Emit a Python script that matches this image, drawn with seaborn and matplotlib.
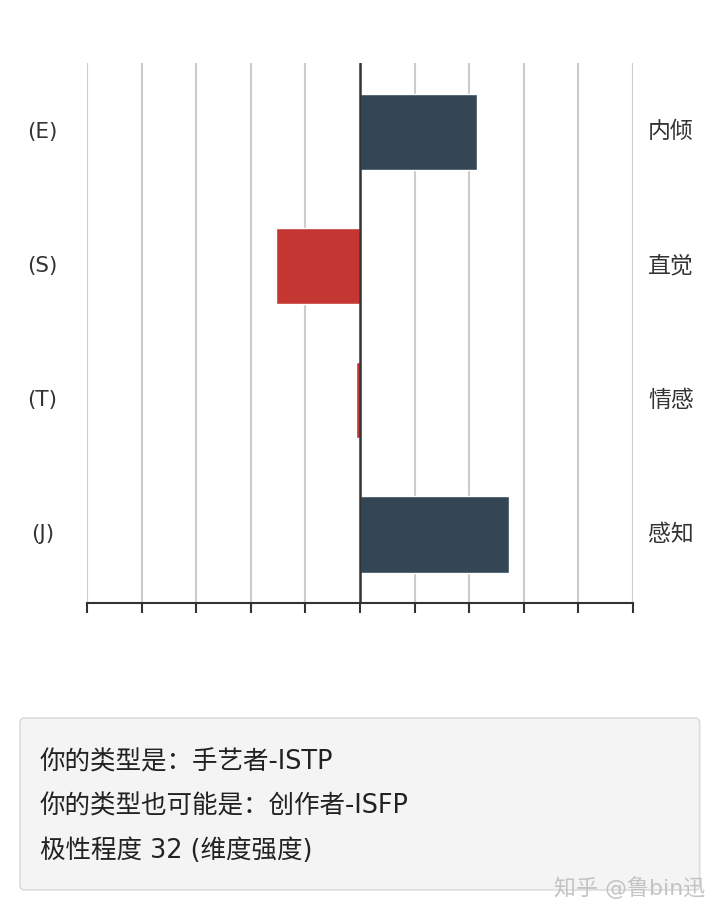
import matplotlib
matplotlib.use("Agg")
import matplotlib.pyplot as plt
from matplotlib.patches import FancyBboxPatch
import seaborn as sns

# MBTI dimension scores (negative = left pole, positive = right pole)
dims = ["E-I", "S-N", "T-F", "J-P"]
left_labels = ["(E)", "(S)", "(T)", "(J)"]
right_labels = ["内倾", "直觉", "情感", "感知"]
scores = [21.5, -15.3, -0.7, 27.3]

result_lines = [
    "你的类型是：手艺者-ISTP",
    "你的类型也可能是：创作者-ISFP",
    "极性程度 32 (维度强度)",
]
watermark = "知乎 @鲁bin迅"

NAVY = "#324656"
RED = "#c43632"

sns.set_style("white")
# Latin glyphs in DejaVu, Chinese falls back to Noto CJK
plt.rcParams["font.family"] = ["DejaVu Sans", "Noto Sans CJK SC"]

fig = plt.figure(figsize=(7.2, 9.23), dpi=100)
ax = fig.add_axes([0.1208, 0.3467, 0.7583, 0.5850])

colors = [NAVY if s >= 0 else RED for s in scores]
sns.barplot(x=scores, y=dims, hue=dims, palette=colors, legend=False,
            orient="h", width=0.566, saturation=1, ax=ax)

ax.set_xlim(-50, 50)
ax.set_ylim(3.51, -0.51)
ax.set_xticks(range(-50, 51, 10))
ax.set_xticklabels([])
ax.set_yticks([])
ax.set_xlabel("")
ax.set_ylabel("")

# vertical grid lines behind the bars
for xv in range(-50, 51, 10):
    if xv != 0:
        ax.axvline(xv, color="#cccccc", linewidth=1.5, zorder=0)
ax.axvline(0, color="#333333", linewidth=1.8, zorder=5)

for side in ["top", "right", "left"]:
    ax.spines[side].set_visible(False)
ax.spines["bottom"].set_color("#333333")
ax.spines["bottom"].set_linewidth(1.5)
ax.tick_params(axis="x", direction="out", length=7, width=1.5,
               color="#333333", bottom=True)

trans = ax.get_yaxis_transform()
for i, (l, r) in enumerate(zip(left_labels, right_labels)):
    ax.text(-0.082, i, l, transform=trans, ha="center", va="center",
            fontsize=15.5, color="#333333")
    ax.text(1.0696, i, r, transform=trans, ha="center", va="center",
            fontsize=16.5, color="#333333")

# result box
box = FancyBboxPatch((0.0278, 0.0358), 0.944, 0.1863,
                     boxstyle="round,pad=0,rounding_size=0.006",
                     transform=fig.transFigure, facecolor="#f4f4f4",
                     edgecolor="#dddddd", linewidth=1.2)
fig.patches.append(box)

for y, line in zip([0.1738, 0.1262, 0.0785], result_lines):
    fig.text(0.0556, y, line, ha="left", va="center", fontsize=18.4,
             color="#222222")

fig.text(0.98, 0.038, watermark, ha="right", va="center", fontsize=15.8,
         color="#bbbbbb", alpha=0.85)

fig.savefig("out.png", dpi=100)
